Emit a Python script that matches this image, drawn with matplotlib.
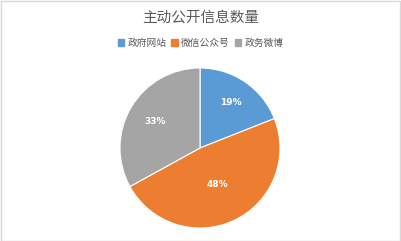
import numpy as np
import matplotlib
matplotlib.use("Agg")
import matplotlib.pyplot as plt
from matplotlib.patches import Rectangle

plt.rcParams['font.family'] = ['Noto Sans CJK SC', 'DejaVu Sans']

categories = ["政府网站", "微信公众号", "政务微博"]
shares = [19, 48, 33]
colors = ["#5B9BD5", "#ED7D31", "#A5A5A5"]
title = "主动公开信息数量"

W, H = 401, 241
fig = plt.figure(figsize=(W / 100, H / 100), dpi=100)
fig.patch.set_facecolor("white")

# pie axes: centre (200, 148) px, radius 80 px
cx, cy, r = 200, 148, 80
ax = fig.add_axes([(cx - r) / W, 1 - (cy + r) / H, 2 * r / W, 2 * r / H])
wedges, _ = ax.pie(shares, colors=colors, startangle=90, counterclock=False,
                   wedgeprops=dict(edgecolor="white", linewidth=0.8))
ax.set_xlim(-1, 1)
ax.set_ylim(-1, 1)
ax.set_aspect("auto")
ax.axis("off")

# percentage labels inside each wedge
label_radius = [0.69, 0.5, 0.65]
for w, v, lr in zip(wedges, shares, label_radius):
    ang = np.deg2rad((w.theta1 + w.theta2) / 2)
    ax.text(lr * np.cos(ang), lr * np.sin(ang), f"{v}%", ha="center",
            va="center", color="white", fontsize=6.5, fontweight="bold",
            family=["DejaVu Sans"])

fig.text(0.5, 1 - 18 / H, title, ha="center", va="center",
         fontsize=10.5, color="#595959")

# legend row
leg_y = 1 - 43 / H
fig.legend(handles=[Rectangle((0, 0), 1, 1, color=c) for c in colors],
           labels=categories, loc="center", bbox_to_anchor=(0.5, leg_y),
           ncol=3, frameon=False, fontsize=7, labelcolor="#595959",
           handlelength=0.7, handleheight=0.7, handletextpad=0.3,
           columnspacing=0.5)

# outer frame
fig.add_artist(Rectangle((0.5 / W, 0.5 / H), 1 - 1.5 / W, 1 - 1.5 / H,
                         transform=fig.transFigure, fill=False,
                         edgecolor="#D9D9D9", linewidth=1.0))

fig.savefig("out.png", dpi=100, facecolor="white")
